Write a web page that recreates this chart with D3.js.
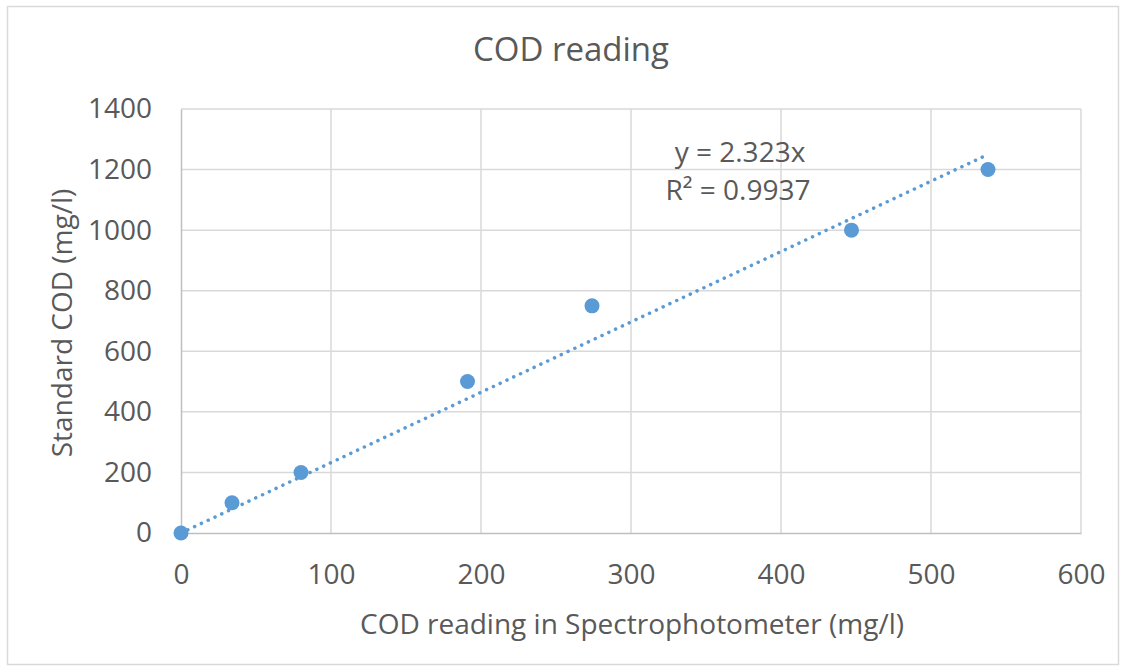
<!DOCTYPE html>
<html>
<head>
<meta charset="utf-8">
<script src="https://cdn.jsdelivr.net/npm/d3@7"></script>
<style>
  html, body { margin: 0; padding: 0; background: #fff; }
  text { font-family: "Open Sans", "Liberation Sans", sans-serif; fill: #595959; }
</style>
</head>
<body>
<svg id="chart" width="1124" height="670"></svg>
<script>
// COD calibration: spectrophotometer reading vs. standard concentration
const spectroReading = [0, 34, 80, 191, 274, 447, 538];
const standardCOD = [0, 100, 200, 500, 750, 1000, 1200];
const xTicks = [0, 100, 200, 300, 400, 500, 600];
const yTicks = [0, 200, 400, 600, 800, 1000, 1200, 1400];
const trendSlope = 2.323;
const trendR2 = 0.9937;

const svg = d3.select("#chart");
const plot = { left: 181, right: 1081, top: 109, bottom: 533 };
const blue = "#5b9bd5";

// outer chart frame
svg.append("rect")
  .attr("x", 7.5).attr("y", 6.5)
  .attr("width", 1111).attr("height", 658)
  .attr("fill", "#fff").attr("stroke", "#d9d9d9").attr("stroke-width", 1.5);

const x = d3.scaleLinear().domain([0, 600]).range([plot.left, plot.right]);
const y = d3.scaleLinear().domain([0, 1400]).range([plot.bottom, plot.top]);

// gridlines
const grid = svg.append("g");
grid.selectAll(".gx").data(xTicks.filter(d => d > 0)).join("line")
  .attr("x1", d => x(d)).attr("x2", d => x(d))
  .attr("y1", plot.top).attr("y2", plot.bottom)
  .attr("stroke", "#d9d9d9").attr("stroke-width", 1.5);
grid.selectAll(".gy").data(yTicks.filter(d => d > 0)).join("line")
  .attr("x1", plot.left).attr("x2", plot.right)
  .attr("y1", d => y(d)).attr("y2", d => y(d))
  .attr("stroke", "#d9d9d9").attr("stroke-width", 1.5);

// axes
const fmt = d3.format("d");
const xAxis = d3.axisBottom(x).tickValues(xTicks).tickFormat(fmt).tickSize(0).tickPadding(31);
const yAxis = d3.axisLeft(y).tickValues(yTicks).tickFormat(fmt).tickSize(0).tickPadding(29);

const gx = svg.append("g").attr("transform", `translate(0,${plot.bottom})`).call(xAxis);
gx.select(".domain").attr("stroke", "#bfbfbf").attr("stroke-width", 1.5);
gx.selectAll("text").attr("font-size", 28).attr("fill", "#595959")
  .attr("font-family", "Open Sans, sans-serif");

const gy = svg.append("g").attr("transform", `translate(${plot.left},0)`).call(yAxis);
gy.select(".domain").attr("stroke", "#bfbfbf").attr("stroke-width", 1.5);
gy.selectAll("text").attr("font-size", 28).attr("fill", "#595959")
  .attr("font-family", "Open Sans, sans-serif");

// linear trendline through the origin
const xMax = d3.max(spectroReading);
svg.append("line")
  .attr("x1", x(0)).attr("y1", y(0))
  .attr("x2", x(xMax)).attr("y2", y(trendSlope * xMax))
  .attr("stroke", blue).attr("stroke-width", 3.5)
  .attr("stroke-linecap", "round")
  .attr("stroke-dasharray", "0.1 7.4");

// data points
svg.append("g").selectAll("circle")
  .data(spectroReading.map((v, i) => [v, standardCOD[i]]))
  .join("circle")
  .attr("cx", d => x(d[0])).attr("cy", d => y(d[1]))
  .attr("r", 7.5).attr("fill", blue);

// trendline equation
svg.append("text").attr("x", 740).attr("y", 162)
  .attr("text-anchor", "middle").attr("font-size", 28)
  .text(`y = ${trendSlope}x`);
svg.append("text").attr("x", 738).attr("y", 200)
  .attr("text-anchor", "middle").attr("font-size", 28)
  .text(`R² = ${trendR2}`);

// titles
svg.append("text").attr("x", 571).attr("y", 61)
  .attr("text-anchor", "middle").attr("font-size", 33)
  .text("COD reading");
svg.append("text").attr("x", 632).attr("y", 634)
  .attr("text-anchor", "middle").attr("font-size", 28)
  .text("COD reading in Spectrophotometer (mg/l)");
svg.append("text")
  .attr("transform", `translate(72,${(plot.top + plot.bottom) / 2 + 2}) rotate(-90)`)
  .attr("text-anchor", "middle").attr("font-size", 28)
  .text("Standard COD (mg/l)");
</script>
</body>
</html>
